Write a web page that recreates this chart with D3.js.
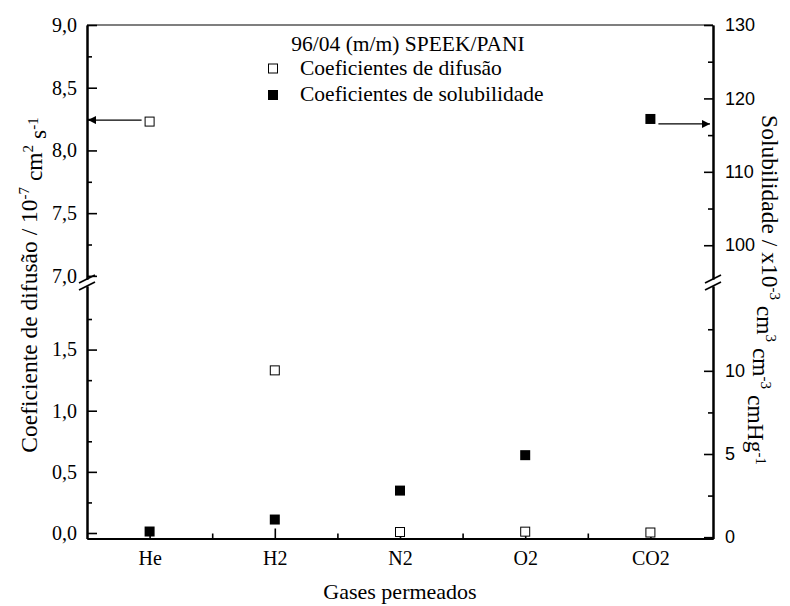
<!DOCTYPE html>
<html>
<head>
<meta charset="utf-8">
<script src="https://cdn.jsdelivr.net/npm/d3@7"></script>
<style>
	body { margin: 0; background: #fff; }
	svg text { font-family: "Liberation Serif", "Times New Roman", Times, serif; fill: #000; }
	.axis path, .axis line { stroke: #000; }
	.axis path { stroke-width: 2; }
	.axis line { stroke-width: 1.6; }
	svg .right-axis text { font-family: "Liberation Sans", Arial, sans-serif; }
</style>
</head>
<body>
<div id="chart"></div>
<script>

// data
var gases = ["He", "H2", "N2", "O2", "CO2"];
var difusao = [8.23, 1.33, 0.008, 0.011, 0.004];          // 10^-7 cm2 s-1 (left)
var solubilidade = [0.34, 1.06, 2.80, 4.93, 117.2];       // x10^-3 (right)

var leftTicksLow = [0, 0.5, 1.0, 1.5];
var leftTicksHigh = [7.0, 7.5, 8.0, 8.5, 9.0];
var rightTicksLow = [0, 5, 10];
var rightTicksHigh = [100, 110, 120, 130];

var width = 790, height = 606;
var x0 = 87, x1 = 713, yTop = 25, yBot = 538.5;
var breakHi = 279, breakLo = 286;

var svg = d3.select("#chart").append("svg")
	.attr("width", width)
	.attr("height", height);

// scales (x is linear so that the categories sit at 1..5)
var x = d3.scaleLinear().domain([0.5, 5.5]).range([x0, x1]);

var yLHigh = d3.scaleLinear().domain([6.975, 9.0]).range([breakHi, yTop]);
var yLLow = d3.scaleLinear().domain([-0.045, 2.02]).range([yBot, breakLo]);
var yRHigh = d3.scaleLinear().domain([95.4, 130]).range([breakHi, yTop]);
var yRLow = d3.scaleLinear().domain([-0.08, 15.1]).range([yBot, breakLo]);

function yLeft(v) { return v > 4 ? yLHigh(v) : yLLow(v); }
function yRight(v) { return v > 50 ? yRHigh(v) : yRLow(v); }

var comma = function(d) { return d3.format(".1f")(d).replace(".", ","); };

function halves(ticks) {
	return ticks.slice(0, -1).map(function(d, i) { return (d + ticks[i + 1]) / 2; });
}

// top border
svg.append("line")
	.attr("x1", x0).attr("x2", x1)
	.attr("y1", yTop).attr("y2", yTop)
	.attr("stroke", "#000").attr("stroke-width", 1.2);

// left axis, two segments
[[yLHigh, leftTicksHigh], [yLLow, leftTicksLow.concat([2.0])]].forEach(function(p, k) {
	var scale = p[0], ticks = p[1];
	var major = k === 0 ? ticks : leftTicksLow;
	svg.append("g")
		.attr("class", "axis left-axis")
		.attr("transform", "translate(" + x0 + ",0)")
		.call(d3.axisLeft(scale).tickValues(major).tickSize(-10).tickSizeOuter(0)
			.tickPadding(10).tickFormat(comma))
		.selectAll("text").style("font-size", "20px");
	svg.append("g")
		.attr("class", "axis left-axis")
		.attr("transform", "translate(" + x0 + ",0)")
		.call(d3.axisLeft(scale).tickValues(halves(ticks)).tickSize(-5).tickSizeOuter(0).tickFormat(""));
});

// right axis, two segments
[[yRHigh, rightTicksHigh], [yRLow, rightTicksLow.concat([15])]].forEach(function(p, k) {
	var scale = p[0], ticks = p[1];
	var major = k === 0 ? ticks : rightTicksLow;
	svg.append("g")
		.attr("class", "axis right-axis")
		.attr("transform", "translate(" + x1 + ",0)")
		.call(d3.axisRight(scale).tickValues(major).tickSize(-9).tickSizeOuter(0)
			.tickPadding(12).tickFormat(d3.format("d")))
		.selectAll("text").style("font-size", "18px");
	svg.append("g")
		.attr("class", "axis right-axis")
		.attr("transform", "translate(" + x1 + ",0)")
		.call(d3.axisRight(scale).tickValues(halves(ticks)).tickSize(-5).tickSizeOuter(0).tickFormat(""));
});

// bottom axis
svg.append("g")
	.attr("class", "axis x-axis")
	.attr("transform", "translate(0," + yBot + ")")
	.call(d3.axisBottom(x).tickValues(d3.range(1, 6)).tickSize(-10).tickSizeOuter(0)
		.tickPadding(12).tickFormat(function(d) { return gases[d - 1]; }))
	.selectAll("text").style("font-size", "20px");
svg.append("g")
	.attr("class", "axis x-axis")
	.attr("transform", "translate(0," + yBot + ")")
	.call(d3.axisBottom(x).tickValues([1.5, 2.5, 3.5, 4.5]).tickSize(-5).tickSizeOuter(0).tickFormat(""));

// axis break marks
[x0, x1].forEach(function(cx) {
	[breakHi, breakLo].forEach(function(cy) {
		svg.append("line")
			.attr("x1", cx - 8).attr("y1", cy + 4)
			.attr("x2", cx + 8).attr("y2", cy - 4)
			.attr("stroke", "#000").attr("stroke-width", 1.8);
	});
});

// diffusion coefficients: open squares
svg.selectAll(".dif")
	.data(difusao)
	.enter().append("rect")
	.attr("class", "dif")
	.attr("x", function(d, i) { return x(i + 1) - 4.5; })
	.attr("y", function(d) { return yLeft(d) - 4.5; })
	.attr("width", 9).attr("height", 9)
	.attr("fill", "#fff").attr("stroke", "#000").attr("stroke-width", 1);

// solubility coefficients: filled squares
svg.selectAll(".sol")
	.data(solubilidade)
	.enter().append("rect")
	.attr("class", "sol")
	.attr("x", function(d, i) { return x(i + 1) - 5; })
	.attr("y", function(d) { return yRight(d) - 5; })
	.attr("width", 10).attr("height", 10)
	.attr("fill", "#000");

// arrows pointing to the axis each series uses
svg.append("defs").append("marker")
	.attr("id", "head")
	.attr("viewBox", "0 0 10 10")
	.attr("refX", 10).attr("refY", 5)
	.attr("markerWidth", 14).attr("markerHeight", 8)
	.attr("markerUnits", "userSpaceOnUse")
	.attr("orient", "auto")
	.append("path").attr("d", "M0,0L10,5L0,10z").attr("fill", "#000");

var yArrowL = yLeft(difusao[0]) - 1.5;
svg.append("line")
	.attr("x1", x(1) - 8).attr("x2", x0 + 1)
	.attr("y1", yArrowL).attr("y2", yArrowL)
	.attr("stroke", "#000").attr("stroke-width", 1.2)
	.attr("marker-end", "url(#head)");

var yArrowR = yRight(solubilidade[4]) + 5;
svg.append("line")
	.attr("x1", x(5) + 8).attr("x2", x1 - 3)
	.attr("y1", yArrowR).attr("y2", yArrowR)
	.attr("stroke", "#000").attr("stroke-width", 1.2)
	.attr("marker-end", "url(#head)");

// legend
svg.append("text")
	.attr("x", 408).attr("y", 51)
	.attr("text-anchor", "middle")
	.style("font-size", "21.5px")
	.text("96/04 (m/m) SPEEK/PANI");

svg.append("rect")
	.attr("x", 268.5).attr("y", 64).attr("width", 9).attr("height", 9)
	.attr("fill", "#fff").attr("stroke", "#000").attr("stroke-width", 1);
svg.append("text")
	.attr("x", 300).attr("y", 75)
	.style("font-size", "21.5px")
	.text("Coeficientes de difusão");

svg.append("rect")
	.attr("x", 268).attr("y", 90).attr("width", 10).attr("height", 10)
	.attr("fill", "#000");
svg.append("text")
	.attr("x", 300).attr("y", 101)
	.style("font-size", "21.5px")
	.text("Coeficientes de solubilidade");

// axis titles
svg.append("text")
	.attr("x", 400).attr("y", 599)
	.attr("text-anchor", "middle")
	.style("font-size", "22px")
	.text("Gases permeados");

function addSup(t, parts) {
	parts.forEach(function(p) {
		if (p[1]) {
			t.append("tspan").attr("dy", "-0.55em").style("font-size", "15px").text(p[0]);
			t.append("tspan").attr("dy", "0.55em").text(" ");
		} else {
			t.append("tspan").text(p[0]);
		}
	});
}

var yl = svg.append("text")
	.attr("text-anchor", "middle")
	.attr("transform", "translate(37,285) rotate(-90)")
	.style("font-size", "23.5px");
addSup(yl, [["Coeficiente de difusão / 10"], ["-7", 1], ["cm"], ["2", 1], ["s"], ["-1", 1]]);

var yr = svg.append("text")
	.attr("text-anchor", "middle")
	.attr("transform", "translate(762,290) rotate(90)")
	.style("font-size", "23.5px");
addSup(yr, [["Solubilidade / x10"], ["-3", 1], ["cm"], ["3", 1], ["cm"], ["-3", 1], ["cmHg"], ["-1", 1]]);

</script>
</body>
</html>
